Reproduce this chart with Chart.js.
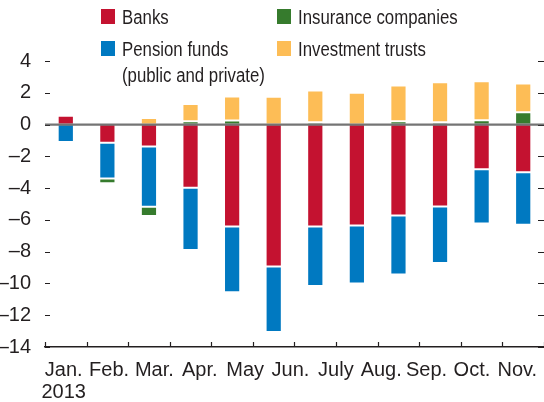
<!DOCTYPE html>
<html>
<head>
<meta charset="utf-8">
<script src="https://cdn.jsdelivr.net/npm/chart.js@4"></script>
<style>
  html, body { margin: 0; padding: 0; background: #fff; }
  #wrap { position: relative; width: 544px; height: 402px; }
  #legend { position: absolute; left: 0; top: 0; font-family: 'Liberation Sans', Arial, sans-serif; font-size: 20px; color: #231f20; }
  .item { position: absolute; line-height: 26px; white-space: nowrap; }
  .box { position: absolute; left: 0; top: 5px; width: 14px; height: 15px; }
  .txt { position: absolute; left: 21px; top: 0; transform: scaleX(0.84); transform-origin: 0 0; }
</style>
</head>
<body>
<div id="wrap">
  <canvas id="chart"></canvas>
  <div id="legend"></div>
</div>
<script>
// 12 monthly bars, but the printed axis only carries 11 labels
const barMonths = ['Jan.', 'Feb.', 'Mar.', 'Apr.', 'May', 'Jun.', 'July', 'Aug.', 'Sep.', 'Oct.', 'Nov.', 'Dec.'];
const tickLabels = [['Jan.', '2013'], 'Feb.', 'Mar.', 'Apr.', 'May', 'Jun.', 'July', 'Aug.', 'Sep.', 'Oct.', 'Nov.'];

const banks = [0.55, -1.15, -1.38, -3.98, -6.42, -8.94, -6.42, -6.36, -5.73, -5.15, -2.81, -3.0];
const pensionFunds = [-1.1, -2.25, -3.8, -3.92, -4.14, -4.12, -3.74, -3.64, -3.71, -3.56, -3.41, -3.3];
const insurance = [-0.07, -0.3, -0.58, 0.21, 0.25, 0, 0.15, 0, 0.21, 0.15, 0.27, 0.78];
const investmentTrusts = [0.1, 0, 0.42, 1.08, 1.52, 1.75, 1.99, 2.0, 2.25, 2.51, 2.46, 1.81];

const FONT = "'Liberation Sans', Arial, sans-serif";
const INK = '#231f20';

// inward ticks on both sides, boundary ticks on the bottom, zero line over the bars
const axisMarks = {
    id: 'axisMarks',
    afterDatasetsDraw(chart) {
        const ctx = chart.ctx;
        const area = chart.chartArea;
        const y = chart.scales.y;
        const x = chart.scales.x;
        ctx.save();
        ctx.strokeStyle = INK;
        ctx.lineWidth = 1.2;
        y.ticks.forEach(t => {
            const py = Math.round(y.getPixelForValue(t.value)) + 0.5;
            ctx.beginPath();
            ctx.moveTo(area.left, py); ctx.lineTo(area.left + 5, py);
            ctx.moveTo(area.right - 6, py); ctx.lineTo(area.right, py);
            ctx.stroke();
        });
        const step = x.getPixelForValue(1) - x.getPixelForValue(0);
        for (let i = 0; i <= barMonths.length; i++) {
            const px = Math.round(x.getPixelForValue(i) - step / 2) + 0.5;
            ctx.beginPath();
            ctx.moveTo(px, area.bottom); ctx.lineTo(px, area.bottom - 5);
            ctx.stroke();
        }
        const zy = y.getPixelForValue(0);
        ctx.strokeStyle = 'rgba(70,70,70,0.75)';
        ctx.lineWidth = 2.2;
        ctx.beginPath();
        ctx.moveTo(area.left, zy); ctx.lineTo(area.right, zy);
        ctx.stroke();
        ctx.restore();
    }
};

function makeSet(label, data, color) {
    return {
        label: label,
        data: data,
        backgroundColor: color,
        borderColor: 'rgba(255,255,255,0.35)',
        borderWidth: 1,
        borderSkipped: false,
        barPercentage: 0.39,
        categoryPercentage: 1
    };
}

const datasets = [
    makeSet('Banks', banks, '#c41230'),
    makeSet('Pension funds\n(public and private)', pensionFunds, '#0079c1'),
    makeSet('Insurance companies', insurance, '#367b2d'),
    makeSet('Investment trusts', investmentTrusts, '#fdbd56')
];

new Chart(document.getElementById('chart'), {
    type: 'bar',
    data: { labels: barMonths, datasets: datasets },
    options: {
        responsive: true,
        maintainAspectRatio: false,
        animation: false,
        layout: { padding: { top: 61, right: 0, bottom: 0, left: 0 } },
        plugins: { legend: { display: false }, tooltip: { enabled: false } },
        scales: {
            x: { stacked: true, display: false, offset: true },
            x2: {
                type: 'category',
                labels: tickLabels,
                position: 'bottom',
                offset: true,
                grid: { display: false },
                border: { display: true, color: INK, width: 1.5 },
                ticks: { color: INK, font: { family: FONT, size: 20, lineHeight: 1.12 }, padding: 4, labelOffset: -4, maxRotation: 0, autoSkip: false },
                afterFit(scale) {
                    scale.height = 55;
                    scale.paddingLeft = 0;
                    scale.paddingRight = 0;
                }
            },
            y: {
                stacked: true,
                min: -14,
                max: 4,
                grid: { display: false },
                border: { display: false },
                ticks: {
                    stepSize: 2,
                    color: INK,
                    padding: 6,
                    font: { family: FONT, size: 20 },
                    callback: v => v < 0 ? '\u2013' + Math.abs(v) : String(v)
                },
                afterFit(scale) { scale.width = 45; }
            }
        }
    },
    plugins: [axisMarks]
});

// legend laid out in two columns, partly over the plot like the original
const legendPos = [[101, 4], [101, 36], [277, 4], [277, 36]];
const legend = document.getElementById('legend');
datasets.forEach((ds, i) => {
    const item = document.createElement('div');
    item.className = 'item';
    item.style.left = legendPos[i][0] + 'px';
    item.style.top = legendPos[i][1] + 'px';
    item.innerHTML = '<span class="box" style="background:' + ds.backgroundColor + '"></span>' +
        '<span class="txt">' + ds.label.replace('\n', '<br>') + '</span>';
    legend.appendChild(item);
});
</script>
</body>
</html>
